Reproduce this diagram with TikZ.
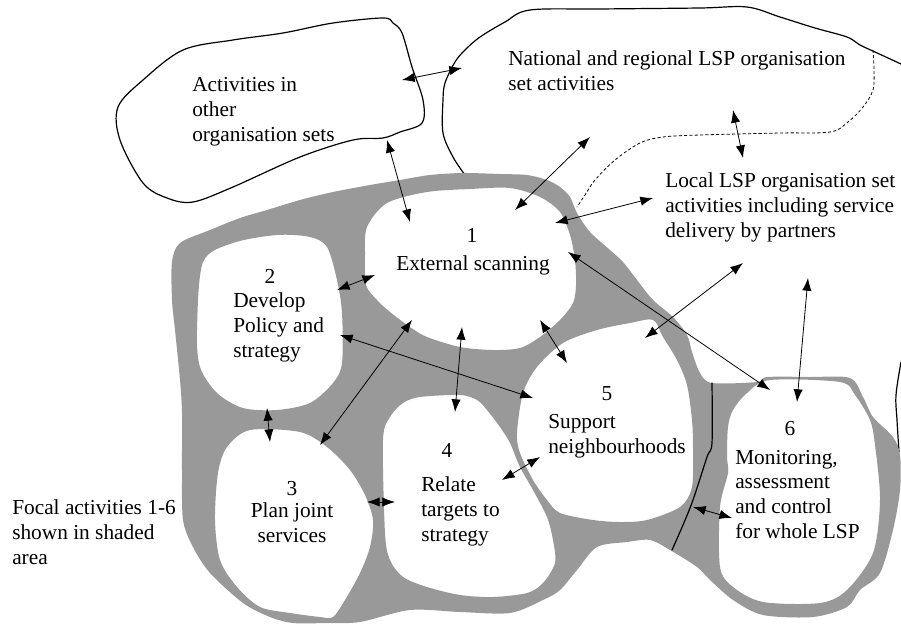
\documentclass[tikz,border=0pt]{standalone}
\usepackage{fontspec}
\setmainfont{Liberation Serif}
\usepackage{tikz}
\usetikzlibrary{arrows.meta}

\tikzset{
  blob/.style={line width=0.9pt,line join=round},
  focal/.style={blob,fill=black!40,even odd rule},
  link/.style={line width=0.6pt,{Latex[length=9.5pt,width=7pt]}-{Latex[length=9.5pt,width=7pt]}},
  txt/.style={inner sep=0pt,font=\fontsize{16}{18.4}\selectfont},
  num/.style={txt,anchor=base}
}

\begin{document}
\begin{tikzpicture}[x=0.75pt,y=-0.75pt,line cap=round]
\useasboundingbox (0,0) rectangle (901,625);
\draw [blob] plot [smooth cycle,tension=0.55] coordinates {(383,18) (393,23) (402,33) (412,67) (423,100) (422,123) (400,132) (383,138) (353,140) (300,157) (233,187) (193,202) (167,198) (143,183) (120,140) (118,107) (143,80) (183,50) (233,40) (283,33) (333,23)};
\draw [blob] plot [smooth,tension=0.55] coordinates {(465,175) (453,157) (443,133) (443,100) (445,83) (455,62) (465,50) (480,37) (505,22) (530,10) (600,9) (700,8) (747,7) (780,17) (815,28) (847,37) (860,45) (875,52) (901,64)};
\draw [line width=0.6pt,dashed,dash pattern=on 2pt off 2pt] plot [smooth,tension=0.55] coordinates {(873,50) (874,70) (873,90) (863,107) (848,122) (830,132) (780,133) (700,135) (663,137) (640,143) (615,160) (595,180) (585,195) (577,207)};
\draw [blob] plot [smooth,tension=0.55] coordinates {(901,362) (896,395) (897,420) (899,452)};
\path [focal]
  plot [smooth cycle,tension=0.5] coordinates {(172,262) (180,243) (210,230) (240,218) (267,210) (300,200) (333,192) (370,185) (400,180) (430,175) (463,173) (500,174) (527,175) (547,180) (560,187) (570,197) (577,213) (590,232) (610,250) (623,262) (637,280) (653,300) (673,317) (687,335) (692,352) (700,373) (712,383) (757,382) (767,377) (810,377) (850,378) (863,397) (873,417) (893,437) (900,455) (900,490) (893,530) (880,573) (860,590) (847,607) (813,617) (763,615) (733,600) (710,580) (697,567) (670,550) (650,540) (627,542) (597,547) (577,570) (560,590) (543,600) (510,613) (460,612) (410,610) (360,622) (327,623) (293,623) (270,617) (243,603) (210,573) (193,547) (183,520) (182,470) (182,413) (180,380) (175,330) (172,300)}
  plot [smooth cycle,tension=0.5] coordinates {(367,227) (387,203) (427,192) (470,189) (510,188) (540,197) (560,212) (570,235) (575,260) (576,285) (573,303) (560,320) (540,337) (520,348) (493,350) (460,347) (427,337) (410,327) (390,312) (377,300) (366,285) (365,255)}
  plot [smooth cycle,tension=0.5] coordinates {(203,262) (233,243) (277,235) (310,237) (327,247) (337,280) (342,313) (342,363) (333,383) (310,403) (277,410) (243,408) (217,393) (200,367) (197,330)}
  plot [smooth cycle,tension=0.5] coordinates {(227,447) (250,430) (300,432) (327,447) (350,470) (365,495) (373,520) (370,547) (360,573) (345,600) (333,617) (320,617) (290,613) (260,607) (237,587) (220,560) (215,520) (218,473)}
  plot [smooth cycle,tension=0.5] coordinates {(383,440) (390,417) (403,403) (420,397) (460,395) (477,400) (487,410) (500,427) (510,443) (520,467) (533,490) (547,517) (553,540) (555,563) (543,583) (527,593) (493,597) (460,595) (427,587) (403,577) (390,560) (385,533)}
  plot [smooth cycle,tension=0.5] coordinates {(523,393) (537,367) (563,343) (597,330) (630,323) (653,320) (663,337) (677,360) (687,385) (692,420) (693,450) (692,487) (680,507) (647,520) (620,522) (593,520) (560,513) (547,500) (533,480) (520,453) (517,433)}
  plot [smooth cycle,tension=0.5] coordinates {(728,427) (733,410) (747,393) (770,380) (840,382) (855,395) (870,420) (875,445) (880,500) (873,553) (847,590) (820,603) (763,602) (733,587) (720,567) (720,507) (728,473) (727,457)};
\draw [blob] plot [smooth,tension=0.5] coordinates {(712,383) (712,443) (707,457) (693,500) (683,525) (672,550)};

\coordinate (othR) at (402,80);   \coordinate (natL) at (462,68);
\coordinate (othB) at (387,140);  \coordinate (scanT) at (410,222);
\coordinate (natB) at (590,137);  \coordinate (scanTR) at (515,210);
\coordinate (natD) at (733,110);  \coordinate (locU) at (743,158);
\coordinate (locL) at (653,198);  \coordinate (scanR) at (555,223);
\coordinate (locD) at (743,263);  \coordinate (supT) at (645,338);
\coordinate (locR) at (808,278);  \coordinate (monT) at (797,402);
\coordinate (scanE) at (568,252); \coordinate (monTL) at (770,390);
\coordinate (polR) at (337,290);  \coordinate (scanL) at (375,275);
\coordinate (polE) at (340,335);  \coordinate (supL) at (533,398);
\coordinate (scanB) at (412,320); \coordinate (planT) at (320,445);
\coordinate (scanD) at (462,327); \coordinate (relT) at (455,412);
\coordinate (scanBR) at (540,320); \coordinate (supTL) at (567,363);
\coordinate (polB) at (267,408);  \coordinate (planTT) at (270,442);
\coordinate (planR) at (367,502); \coordinate (relL) at (395,502);
\coordinate (relR) at (502,480);  \coordinate (supBL) at (540,457);
\coordinate (supR) at (693,507);  \coordinate (monL) at (732,518);
\foreach \a/\b in {othR/natL,othB/scanT,natB/scanTR,natD/locU,locL/scanR,locD/supT,locR/monT,scanE/monTL,polR/scanL,polE/supL,scanB/planT,scanD/relT,scanBR/supTL,polB/planTT,planR/relL,relR/supBL,supR/monL}
  \draw [link] (\a) -- (\b);

\node [txt,anchor=base west,align=left] (others) at (192,141) {Activities in\\other\\organisation sets};
\node [txt,anchor=base west,align=left] (national) at (508,90) {National and regional LSP organisation\\set activities};
\node [txt,anchor=base west,align=left] (local) at (665,237) {Local LSP organisation set\\activities including service\\delivery by partners};
\node [num] (n1) at (472,242) {1};
\node [num] (scan) at (473,270) {External scanning};
\node [num] (n2) at (270,283) {2};
\node [txt,anchor=base west,align=left] (policy) at (233,357) {Develop\\Policy and\\strategy};
\node [num] (n3) at (292,495) {3};
\node [num,align=center] (plan) at (292,542) {Plan joint\\services};
\node [num] (n4) at (447,457) {4};
\node [txt,anchor=base west,align=left] (relate) at (421,541) {Relate\\targets to\\strategy};
\node [num] (n5) at (607,400) {5};
\node [txt,anchor=base west,align=left] (support) at (548,453) {Support\\neighbourhoods};
\node [num] (n6) at (790,435) {6};
\node [txt,anchor=base west,align=left] (monitor) at (735,538) {Monitoring,\\assessment\\and control\\for whole LSP};
\node [txt,anchor=base west,align=left] (focaltxt) at (12,564) {Focal activities 1-6\\shown in shaded\\area};
\end{tikzpicture}
\end{document}
